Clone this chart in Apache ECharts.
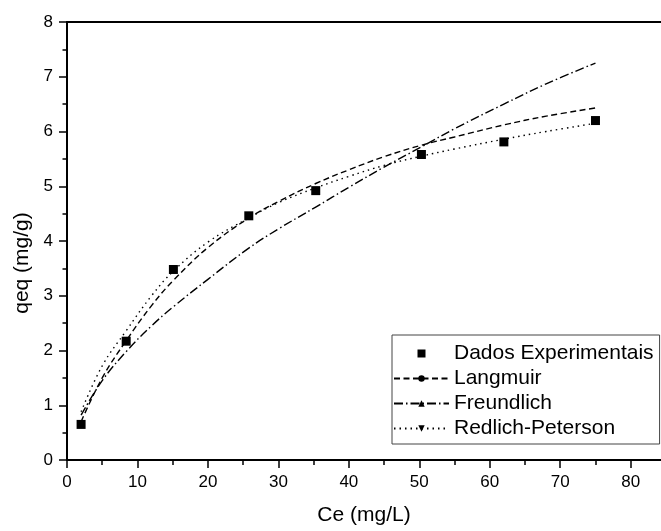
<!DOCTYPE html>
<html>
<head>
<meta charset="utf-8">
<script src="https://cdn.jsdelivr.net/npm/echarts@6/dist/echarts.min.js"></script>
<style>
html,body{margin:0;padding:0;background:#fff;}
#chart{width:661px;height:531px;}
</style>
</head>
<body>
<div id="chart"></div>
<script>
// Experimental data
var ceData = [2.0, 8.4, 15.1, 25.8, 35.3, 50.3, 62.0, 75.0];
var qeData = [0.65, 2.17, 3.48, 4.46, 4.92, 5.58, 5.81, 6.20];

// Fitted curves
var fitCe =       [2.0, 5.0, 8.4, 12.0, 15.1, 20.0, 25.8, 30.0, 35.3, 40.0, 45.0, 50.3, 55.0, 62.0, 68.0, 75.0];
var langmuirQ =   [0.70, 1.50, 2.18, 2.82, 3.28, 3.88, 4.42, 4.72, 5.05, 5.30, 5.54, 5.75, 5.90, 6.12, 6.28, 6.43];
var freundlichQ = [0.82, 1.45, 1.98, 2.45, 2.80, 3.30, 3.87, 4.22, 4.62, 4.98, 5.35, 5.72, 6.05, 6.50, 6.87, 7.25];
var redlichQ =    [0.88, 1.72, 2.36, 3.00, 3.45, 3.98, 4.42, 4.70, 4.97, 5.18, 5.38, 5.55, 5.68, 5.86, 6.00, 6.15];

// Ticks
var xMajorTicks = [0, 10, 20, 30, 40, 50, 60, 70, 80];
var xMinorTicks = [5, 15, 25, 35, 45, 55, 65, 75];
var xMax = 84.3;
var yMin = 0, yMax = 8, yInterval = 1;

function pairs(xs, ys) {
  return xs.map(function (x, i) { return [x, ys[i]]; });
}

var font = 'Arial, "Liberation Sans", sans-serif';
var chart = echarts.init(document.getElementById('chart'), null, {renderer: 'canvas'});

var axisLineStyle = {color: '#000', width: 2};

chart.setOption({
  animation: false,
  backgroundColor: '#fff',
  grid: {left: 67, right: 0, top: 22, bottom: 67, containLabel: false},
  legend: {
    orient: 'vertical',
    left: 392,
    top: 335,
    padding: [8, 6, 5, 1],
    itemGap: 4,
    itemWidth: 55,
    itemHeight: 8,
    itemStyle: {borderWidth: 0},
    borderColor: '#444',
    borderWidth: 1,
    textStyle: {fontFamily: font, fontSize: 21, color: '#000'},
    data: [
      {name: 'Dados Experimentais', icon: 'path://M0,0L10,0L10,10L0,10Z'},
      'Langmuir', 'Freundlich', 'Redlich-Peterson'
    ]
  },
  xAxis: [
    {
      type: 'value',
      position: 'bottom',
      min: 0,
      max: xMax,
      name: 'Ce (mg/L)',
      nameLocation: 'middle',
      nameGap: 45,
      nameTextStyle: {fontFamily: font, fontSize: 21, color: '#000'},
      axisLine: {show: true, onZero: false, lineStyle: axisLineStyle},
      axisTick: {show: true, customValues: xMajorTicks, length: 8, lineStyle: {color: '#000', width: 1.5}},
      axisLabel: {show: true, customValues: xMajorTicks, margin: 14, fontFamily: font, fontSize: 17, color: '#000'},
      splitLine: {show: false}
    },
    {
      type: 'value',
      position: 'bottom',
      min: 0,
      max: xMax,
      axisLine: {show: false, onZero: false},
      axisTick: {show: true, customValues: xMinorTicks, length: 5, lineStyle: {color: '#000', width: 1.5}},
      axisLabel: {show: false},
      splitLine: {show: false}
    },
    {
      type: 'value',
      position: 'top',
      min: 0,
      max: xMax,
      axisLine: {show: true, onZero: false, lineStyle: axisLineStyle},
      axisTick: {show: false},
      axisLabel: {show: false},
      splitLine: {show: false}
    }
  ],
  yAxis: {
    type: 'value',
    min: yMin,
    max: yMax,
    interval: yInterval,
    name: 'qeq (mg/g)',
    nameLocation: 'middle',
    nameGap: 30,
    nameTextStyle: {fontFamily: font, fontSize: 21, color: '#000', padding: [0, 44, 0, 0]},
    axisLine: {show: true, onZero: false, lineStyle: axisLineStyle},
    axisTick: {show: true, length: 8, lineStyle: {color: '#000', width: 1.5}},
    minorTick: {show: true, splitNumber: 2, length: 4.5, lineStyle: {color: '#000', width: 1.5}},
    axisLabel: {margin: 14, fontFamily: font, fontSize: 17, color: '#000'},
    splitLine: {show: false}
  },
  series: [
    {
      name: 'Dados Experimentais',
      type: 'scatter',
      xAxisIndex: 0,
      symbol: 'rect',
      symbolSize: 9,
      itemStyle: {color: '#000', opacity: 1},
      data: pairs(ceData, qeData),
      z: 5
    },
    {
      name: 'Langmuir',
      type: 'line',
      xAxisIndex: 0,
      smooth: 0.4,
      showSymbol: false,
      symbol: 'circle',
      itemStyle: {color: '#000'},
      lineStyle: {color: '#000', width: 1.4, type: [6, 3.5]},
      data: pairs(fitCe, langmuirQ)
    },
    {
      name: 'Freundlich',
      type: 'line',
      xAxisIndex: 0,
      smooth: 0.4,
      showSymbol: false,
      symbol: 'triangle',
      itemStyle: {color: '#000'},
      lineStyle: {color: '#000', width: 1.4, type: [9, 3, 1.5, 3]},
      data: pairs(fitCe, freundlichQ)
    },
    {
      name: 'Redlich-Peterson',
      type: 'line',
      xAxisIndex: 0,
      smooth: 0.4,
      showSymbol: false,
      symbol: 'triangle',
      symbolRotate: 180,
      itemStyle: {color: '#000'},
      lineStyle: {color: '#000', width: 1.4, type: [1.5, 4]},
      data: pairs(fitCe, redlichQ)
    }
  ]
});
</script>
</body>
</html>
